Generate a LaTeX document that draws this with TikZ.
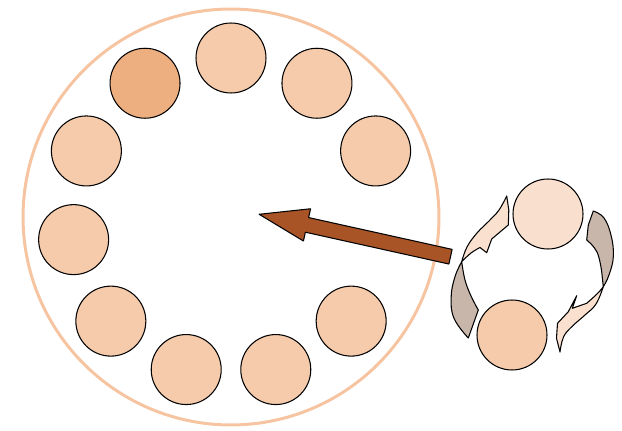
\documentclass[tikz,border=0pt]{standalone}
\usepackage{xcolor}
\usepackage{tikz}
\usetikzlibrary{calc}
\definecolor{ringcol}{RGB}{246,196,160}
\definecolor{seatcol}{RGB}{245,203,172}
\definecolor{seatdark}{RGB}{238,175,128}
\definecolor{seatpale}{RGB}{249,224,206}
\definecolor{pointer}{RGB}{169,84,38}
\definecolor{swirlfront}{RGB}{250,225,207}
\definecolor{swirlback}{RGB}{201,182,170}
\tikzset{
  plate/.style={
    shape = circle,
    draw = ringcol,
    line width = 1.7pt,
    inner sep = 0,
    minimum size = 8.32cm
  },
  seat/.style={
    shape = circle,
    draw,
    line width = 0.6pt,
    inner sep = 0,
    minimum size = 1.4cm,
    fill = seatcol
  },
  swirl/.style={
    draw,
    line width = 0.6pt,
    line join = round
  }
}

\begin{document}
\begin{tikzpicture}[x=0.02cm,y=0.02cm]
        \useasboundingbox (0,0) rectangle (622,430);
        \node[plate] (plate) at (231,213) {};
        % seats round the plate
        \node[seat] (s0) at ($(plate.center)+(90:159)$) {};
        \node[seat] (s1) at ($(plate.center)+(57.27:159)$) {};
        \node[seat] (s2) at ($(plate.center)+(24.55:159)$) {};
        \node[seat] (s4) at ($(plate.center)+(-40.91:159)$) {};
        \node[seat] (s5) at ($(plate.center)+(-73.64:159)$) {};
        \node[seat] (s6) at ($(plate.center)+(-106.36:159)$) {};
        \node[seat] (s7) at ($(plate.center)+(-139.09:159)$) {};
        \node[seat] (s8) at ($(plate.center)+(-171.82:159)$) {};
        \node[seat] (s9) at ($(plate.center)+(155.45:159)$) {};
        \node[seat, fill=seatdark] (s10) at ($(plate.center)+(122.73:159)$) {};
        % the pair on the right
        \node[seat, fill=seatpale] (upper) at (548,216) {};
        \node[seat] (lower) at (512,95) {};
        % swirl round the pair
        \filldraw[swirl, fill=swirlback]
            plot[smooth, tension=0.7] coordinates {(461.7,168.3) (455,153.3) (451.2,133.3) (454,111.7) (468.3,92)}
            -- plot[smooth, tension=0.7] coordinates {(478.3,120) (471,134) (465,150) (461.7,168.3)} -- cycle;
        \filldraw[swirl, fill=swirlfront]
            plot[smooth, tension=0.7] coordinates {(461.7,168.3) (467,183) (477,197) (489,209) (499,220) (506.7,234)}
            -- (508.8,220) -- (508.3,205) -- (491.7,191) -- (486.7,177.3)
            -- plot[smooth, tension=0.7] coordinates {(480,182.5) (471,177) (461.7,168.3)} -- cycle;
        \filldraw[swirl, fill=swirlback]
            plot[smooth, tension=0.7] coordinates {(593.3,219) (604,212) (611.2,194) (613.3,173.3) (609,155) (603.3,143.3)}
            -- plot[smooth, tension=0.7] coordinates {(601.7,158.3) (597,178) (586.7,190)}
            -- (588.3,205) -- cycle;
        \filldraw[swirl, fill=swirlfront]
            plot[smooth, tension=0.7] coordinates {(603.3,143.3) (596,126) (585,115) (572,103.5) (563.5,93) (560,78)}
            -- (556.5,91.7) -- (557.5,106.7) -- (568.3,118.3) -- (576.7,134.3) -- (572.3,121.7)
            -- plot[smooth, tension=0.7] coordinates {(586.7,126.7) (597.5,136.5) (603.3,143.3)} -- cycle;
        % pointer into the plate
        \begin{scope}[shift={(450.5,173.3)}, rotate=167.5]
          \filldraw[swirl, fill=pointer] (0,7.5) -- (147,7.5) -- (147,16.5)
              -- (196,0) -- (147,-16.5) -- (147,-7.5) -- (0,-7.5) -- cycle;
        \end{scope}
    \end{tikzpicture}
\end{document}
